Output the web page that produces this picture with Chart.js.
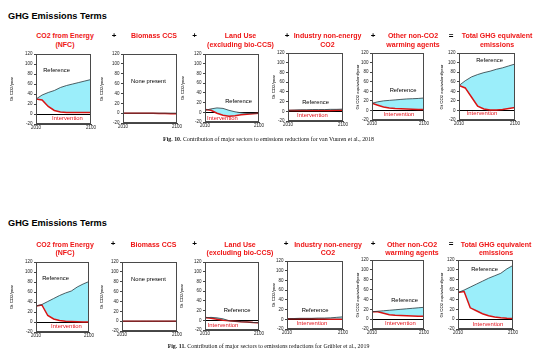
<!DOCTYPE html>
<html><head><meta charset="utf-8">
<script src="https://cdn.jsdelivr.net/npm/chart.js@4/dist/chart.umd.min.js"></script>
<style>
html,body{margin:0;padding:0;background:#fff}
body{width:540px;height:355px;position:relative;overflow:hidden;font-family:"Liberation Sans",Arial,sans-serif}
.t{position:absolute;white-space:nowrap;transform:translate(-50%,-50%);line-height:1}
.fig{left:8px;font-weight:bold;font-size:9.2px;color:#000;transform:translate(0,-50%)}
.pt{font-weight:bold;font-size:7px;color:#ee1515;text-align:center;line-height:8.6px;transform:translate(-50%,0)}
.op{font-weight:bold;font-size:8px;color:#000}
.ref{font-size:5.8px;color:#000}
.int{font-size:5.9px;color:#e5141e}
.none{font-size:5.8px;color:#000}
.yt{font-size:4.3px;color:#000;transform:translate(-50%,-50%) rotate(-90deg)}
.cap{font-family:"Liberation Serif","Times New Roman",serif;font-size:5.9px;color:#111}
</style></head><body>
<script>
// ---------- data ----------
const YEARS = [2010, 2020, 2030, 2040, 2050, 2060, 2070, 2080, 2090, 2100];
const X_TICKS = [2010, 2100];
const Y_TICKS = [-20, 0, 20, 40, 60, 80, 100, 120];
const FIG_TITLE = "GHG Emissions Terms";
const PANEL_TITLES = ["CO2 from Energy\n(NFC)", "Biomass CCS", "Land Use\n(excluding bio-CCS)", "Industry non-energy\nCO2", "Other non-CO2\nwarming agents", "Total GHG equivalent\nemissions"];
const Y_TITLES = ["Gt CO2/year", "Gt CO2/year", "Gt CO2/year", "Gt CO2/year", "Gt CO2 equivalent/year", "Gt CO2 equivalent/year"];
const OPERATORS = ["+", "+", "+", "+", "="];
const CAPTIONS = [
  ["Fig. 10.", " Contribution of major sectors to emissions reductions for van Vuuren et al., 2018"],
  ["Fig. 11.", " Contribution of major sectors to emissions reductions for Gr\u00fcbler et al., 2019"]
];

// van Vuuren et al., 2018
const vvEnergyRef   = [30, 38, 43, 47, 53, 57, 60, 63, 66, 69];
const vvEnergyInt   = [30, 28, 15, 7, 4, 3, 3, 3, 3, 3];
const vvCcsRef      = [0, 0, 0, 0, 0, 0, 0, 0, 0, 0];
const vvCcsInt      = [0, 0, 0, 0, 0, 0, -0.5, -0.5, -1, -1];
const vvLandRef     = [4, 7, 9, 8, 4, 1, -1, -2, -2, -2];
const vvLandInt     = [6, 4, -2, -6, -8, -7, -5, -4, -3, -2];
const vvIndustryRef = [2, 2.5, 3, 3, 3.5, 3.5, 3.5, 4, 4, 4.5];
const vvIndustryInt = [1.5, 1.5, 1.5, 1.5, 1.5, 1.5, 1.5, 1.5, 2, 2];
const vvNonCo2Ref   = [15, 18, 20, 21, 22, 23, 24, 24.5, 25, 26];
const vvNonCo2Int   = [15, 11, 7, 5, 4, 3.5, 3, 2.5, 2, 2];
const vvTotalRef    = [52, 62, 70, 75, 79, 82, 86, 89, 93, 97];
const vvTotalInt    = [52, 47, 28, 9, 3, 1, 1, 2, 4, 6];

// Grübler et al., 2019
const grEnergyRef   = [32, 35, 41, 47, 53, 58, 62, 70, 76, 81];
const grEnergyInt   = [32, 34, 13, 6, 3, 1.5, 1, 0.5, 0, 0];
const grCcsRef      = [0, 0, 0, 0, 0, 0, 0, 0, 0, 0];
const grCcsInt      = [0, 0, 0, 0, 0, 0, 0, 0, 0, 0];
const grLandRef     = [5, 6, 5, 3, -1, -2, -3, -3.5, -4.5, -5];
const grLandInt     = [6, 4, 2, 0, -1, -2, -3, -3.5, -4.5, -5];
const grIndustryRef = [1, 1.5, 2, 2, 2, 2.5, 2.5, 3, 4, 5];
const grIndustryInt = [1, 1, 1, 1, 1, 0.5, 0.5, 0, 0, 0];
const grNonCo2Ref   = [15, 16, 17, 18, 19, 20, 21, 22, 23, 24];
const grNonCo2Int   = [15, 15, 12, 9, 8, 7.5, 7, 6.5, 6, 6];
const grTotalRef    = [54, 59, 65, 71, 77, 83, 88, 93, 102, 109];
const grTotalInt    = [54, 56, 23, 17, 11, 7, 4.5, 3, 2, 1.5];

// ---------- layout ----------
const FONT = '"Liberation Sans", Arial, sans-serif';
const CYAN = '#9beefa';
const ROWS = [
  {
    series: [[vvEnergyRef, vvEnergyInt], [vvCcsRef, vvCcsInt], [vvLandRef, vvLandInt], [vvIndustryRef, vvIndustryInt], [vvNonCo2Ref, vvNonCo2Int], [vvTotalRef, vvTotalInt]],
    boxes: [[36,54,91,124],[123,54,177,123],[205,54,259,122],[288,53,343,121],[372,53,424,120],[459,53,515,120]],
    titleY: 17, ptY: 32, opY: 36, capY: 140,
    ptX: [65, 154, 240.5, 327.5, 413, 497],
    opX: [114, 194.5, 287, 373, 451],
    ytX: [12, 102, 183, 274, 358, 442],
    refPos: [[56.5,71],null,[238.5,102],[315.5,103],[403,91],[489.5,61]],
    intPos: [[67.5,119],null,[222.5,119],[312.5,116],[399,115],[482,114]],
    nonePos: [148.5,82]
  },
  {
    series: [[grEnergyRef, grEnergyInt], [grCcsRef, grCcsInt], [grLandRef, grLandInt], [grIndustryRef, grIndustryInt], [grNonCo2Ref, grNonCo2Int], [grTotalRef, grTotalInt]],
    boxes: [[36,262,89,332],[122,262,177,331],[205,262,259,330],[287,261,343,329],[372,260,424,329],[458,260,513,329]],
    titleY: 224, ptY: 240.5, opY: 243.5, capY: 347,
    ptX: [65, 153.5, 240, 328, 412, 496],
    opX: [113, 194.5, 286, 373, 451],
    ytX: [12, 102, 182, 274, 358, 442],
    refPos: [[55.5,279],null,[237,311],[315,311],[404.5,301],[484.5,270]],
    intPos: [[66.5,327],null,[223,326],[312,324],[400.5,324],[488,325]],
    nonePos: [148.5,280]
  }
];

function addText(cls, txt, x, y) {
  const d = document.createElement('div');
  d.className = 't ' + cls;
  d.textContent = txt;
  d.style.left = x + 'px';
  d.style.top = y + 'px';
  document.body.appendChild(d);
  return d;
}

const boxBorder = {
  id: 'boxBorder',
  afterDatasetsDraw(chart) {
    const {ctx, chartArea: a} = chart;
    ctx.save();
    ctx.strokeStyle = '#4a4a4a';
    ctx.lineWidth = 1;
    ctx.strokeRect(Math.round(a.left) + 0.5, Math.round(a.top) + 0.5, Math.round(a.right - a.left) - 1, Math.round(a.bottom - a.top) - 1);
    ctx.restore();
  }
};

const PAD_L = 30, PAD_T = 5, PAD_R = 8, PAD_B = 10;

function makePanel(box, ref, int, hasFill) {
  const w = box[2] - box[0], h = box[3] - box[1];
  const cv = document.createElement('canvas');
  const cw = w + PAD_L + PAD_R, ch = h + PAD_T + PAD_B;
  cv.width = cw; cv.height = ch;
  cv.style.cssText = `position:absolute;left:${box[0]-PAD_L}px;top:${box[1]-PAD_T}px;width:${cw}px;height:${ch}px`;
  document.body.appendChild(cv);
  const tickFont = {size: 4.5, family: FONT};
  new Chart(cv, {
    type: 'line',
    data: {
      datasets: [
        {label: 'Reference', data: YEARS.map((x, i) => ({x, y: ref[i]})), borderColor: '#2a383e', borderWidth: 0.8, pointRadius: 0, tension: 0, fill: false},
        {label: 'Intervention', data: YEARS.map((x, i) => ({x, y: int[i]})), borderColor: '#d81414', borderWidth: 1.5, pointRadius: 0, tension: 0,
         backgroundColor: CYAN, fill: hasFill ? {target: 0, above: CYAN, below: CYAN} : false}
      ]
    },
    options: {
      responsive: false, animation: false, devicePixelRatio: 1,
      layout: {padding: {left: 0, top: PAD_T, right: PAD_R, bottom: 0}},
      plugins: {legend: {display: false}, tooltip: {enabled: false}, filler: {drawTime: 'beforeDatasetsDraw'}},
      scales: {
        x: {
          type: 'linear', min: 2010, max: 2100,
          afterBuildTicks: s => { s.ticks = X_TICKS.map(v => ({value: v})); },
          afterFit: s => { s.height = PAD_B; },
          ticks: {font: tickFont, color: '#222', padding: 0, maxRotation: 0, autoSkip: false, callback: v => String(v)},
          grid: {drawOnChartArea: false, tickLength: 1.5, color: '#444'},
          border: {color: '#444'}
        },
        y: {
          min: -20, max: 120,
          afterBuildTicks: s => { s.ticks = Y_TICKS.map(v => ({value: v})); },
          afterFit: s => { s.width = PAD_L; },
          ticks: {font: tickFont, color: '#222', padding: 1.5, callback: v => String(v)},
          grid: {color: c => (c.tick && c.tick.value === 0) ? '#000' : 'rgba(0,0,0,0)', tickColor: '#444', tickLength: 2, lineWidth: 1},
          border: {color: '#444'}
        }
      }
    },
    plugins: [boxBorder]
  });
}

ROWS.forEach(row => {
  addText('fig', FIG_TITLE, 8, row.titleY);
  row.boxes.forEach((box, i) => {
    const [ref, int] = row.series[i];
    makePanel(box, ref, int, i !== 1);
    const pt = addText('pt', '', row.ptX[i], row.ptY);
    pt.innerHTML = PANEL_TITLES[i].split('\n').join('<br>');
    addText('yt', Y_TITLES[i], row.ytX[i], (box[1] + box[3]) / 2);
    if (row.refPos[i]) addText('ref', 'Reference', row.refPos[i][0], row.refPos[i][1]);
    if (row.intPos[i]) addText('int', 'Intervention', row.intPos[i][0], row.intPos[i][1]);
  });
  addText('none', 'None present', row.nonePos[0], row.nonePos[1]);
  row.opX.forEach((x, i) => addText('op', OPERATORS[i], x, row.opY));
  const cap = addText('cap', '', 268.5, row.capY);
  const ri = ROWS.indexOf(row);
  const b = document.createElement('b'); b.textContent = CAPTIONS[ri][0];
  cap.appendChild(b);
  cap.appendChild(document.createTextNode(CAPTIONS[ri][1]));
});
</script>
</body></html>
